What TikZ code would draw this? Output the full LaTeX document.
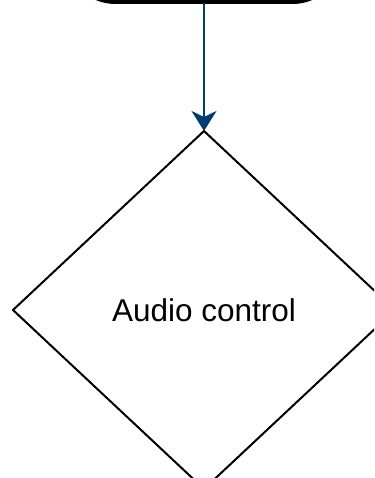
\documentclass[tikz,border=0pt]{standalone}
\usepackage{fontspec}
\setmainfont{Liberation Sans}
\usetikzlibrary{arrows.meta,positioning,shapes.geometric}

\definecolor{flowblue}{RGB}{0,61,115}

\begin{document}
\begin{tikzpicture}[x=1pt,y=-1pt,>={Stealth[length=20pt,width=25pt,inset=6pt]}]
	\tikzstyle{terminal} = [draw, fill=black, rectangle, rounded corners=50pt, line width=2pt, minimum width=277pt, minimum height=100pt, outer sep=0pt]
	\tikzstyle{decision} = [draw, diamond, line width=2pt, minimum width=382pt, minimum height=358pt, inner sep=0pt, outer sep=0pt, font=\fontsize{31.5}{38}\selectfont]
	\tikzstyle{flow} = [draw=flowblue, line width=2pt]

	\useasboundingbox (0,0) rectangle (374,478);
	\clip (0,0) rectangle (374,478);

	\node [terminal] (start) at (204,-47) {};
	\node [decision, below = 128pt of start] (audioctl) {Audio control};

	\draw [flow, ->] (start) -- (audioctl);

\end{tikzpicture}
\end{document}
